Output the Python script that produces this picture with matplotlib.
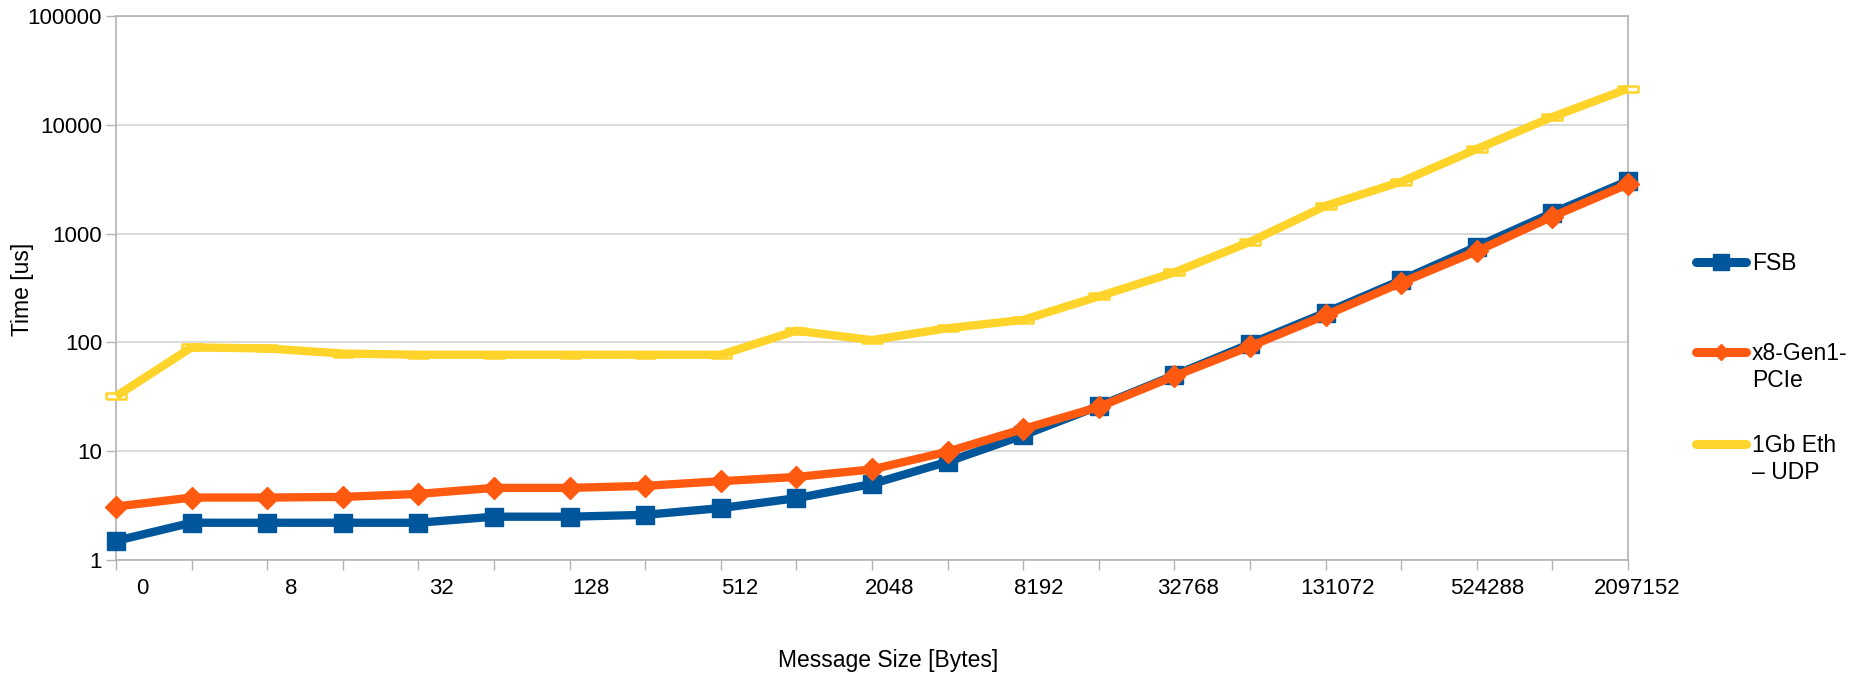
import numpy as np
import matplotlib
matplotlib.use("Agg")
import matplotlib.pyplot as plt
import matplotlib.transforms as mtransforms
from matplotlib.lines import Line2D
from matplotlib.ticker import FixedLocator, NullFormatter, FixedFormatter

plt.rcParams['font.family'] = ['Liberation Sans', 'DejaVu Sans']

# Message sizes (bytes) – category axis
sizes = ["0", "4", "8", "16", "32", "64", "128", "256", "512", "1024", "2048",
         "4096", "8192", "16384", "32768", "65536", "131072", "262144",
         "524288", "1048576", "2097152"]

# Latency in microseconds
fsb = [1.5, 2.2, 2.2, 2.2, 2.2, 2.5, 2.5, 2.6, 3.0, 3.7, 5.0,
       8.0, 14, 26, 50, 97, 188, 373, 760, 1550, 3050]
pcie = [3.1, 3.75, 3.75, 3.8, 4.05, 4.6, 4.6, 4.8, 5.3, 5.8, 6.8,
        9.9, 16, 25.5, 49, 92, 178, 354, 690, 1435, 2850]
eth_udp = [32, 90, 88, 79, 77, 77, 77, 77, 77, 128, 105,
           135, 161, 265, 440, 840, 1800, 3000, 6000, 11800, 21500]

series_names = ["FSB", "x8-Gen1-\nPCIe", "1Gb Eth\n\u2013 UDP"]
c_fsb, c_pcie, c_eth = "#00569a", "#ff5a0f", "#ffd42a"

W, H = 1867, 678
fig = plt.figure(figsize=(W / 100, H / 100), dpi=100)
L, R, T, B = 116, 1628, 16, 560
ax = fig.add_axes([L / W, 1 - B / H, (R - L) / W, (B - T) / H])


def fx(px):
    return px / W


def fy(py):
    return 1 - py / H


x = np.arange(len(sizes))
lw = 6.0

# hollow flat rectangle marker for the Ethernet series
rect = [(-1.6, -0.5), (1.6, -0.5), (1.6, 0.5), (-1.6, 0.5), (-1.6, -0.5)]
ax.plot(x, eth_udp, linestyle="none", marker=rect, markersize=14,
        markerfacecolor="white", markeredgecolor=c_eth, markeredgewidth=1.8,
        zorder=3, clip_on=False)
ax.plot(x, eth_udp, color=c_eth, lw=lw, solid_joinstyle="round",
        solid_capstyle="butt", zorder=4, clip_on=False)
ax.plot(x, fsb, color=c_fsb, lw=lw, marker="s", markersize=13.5,
        solid_joinstyle="round", zorder=5, clip_on=False)
ax.plot(x, pcie, color=c_pcie, lw=lw, marker="D", markersize=11.5,
        solid_joinstyle="round", zorder=6, clip_on=False)

ax.set_yscale("log")
ax.set_ylim(1, 100000)
ax.set_xlim(0, len(sizes) - 1)

# y axis: decade labels
decades = [1, 10, 100, 1000, 10000, 100000]
ax.yaxis.set_major_locator(FixedLocator(decades))
ax.yaxis.set_major_formatter(FixedFormatter([str(d) for d in decades]))
ax.yaxis.set_minor_locator(FixedLocator([]))
ax.tick_params(axis="y", which="major", length=7, width=1, color="#b3b3b3",
               labelsize=16, pad=3)
ax.grid(axis="y", color="#d4d4d4", lw=1.2, zorder=0)

# x axis: tick marks at every category, labels at every second one
ax.xaxis.set_major_locator(FixedLocator(x))
ax.xaxis.set_major_formatter(NullFormatter())
ax.tick_params(axis="x", which="major", length=7, width=1, color="#b3b3b3")
ax.xaxis.set_minor_locator(FixedLocator([]))
lab_tr = mtransforms.blended_transform_factory(ax.transData, fig.transFigure)
for i in x[::2]:
    ax.text(i + 0.344 - 0.01125 * i, fy(588), sizes[i], transform=lab_tr,
            ha="center", va="center", fontsize=16, clip_on=False)

for s in ax.spines.values():
    s.set_color("#b3b3b3")
    s.set_linewidth(1.2)

fig.text(fx(23), fy(289), "Time [us]", rotation=90, ha="center",
         va="center", fontsize=16.5)
fig.text(fx(888), fy(660), "Message Size [Bytes]", ha="center",
         va="center", fontsize=16.5)

# legend
entries = [(c_fsb, "s", 11, 262), (c_pcie, "D", 8, 352), (c_eth, None, 0, 444)]
for (col, mk, ms, yy), name in zip(entries, series_names):
    fig.add_artist(Line2D([fx(1696), fx(1746)], [fy(yy), fy(yy)], color=col,
                          lw=6.5, solid_capstyle="round",
                          transform=fig.transFigure))
    if mk:
        fig.add_artist(Line2D([fx(1721)], [fy(yy)], color=col, marker=mk,
                              markersize=ms, linestyle="none",
                              transform=fig.transFigure))
    fig.text(fx(1752), fy(yy - 10), name, ha="left", va="top", fontsize=16.5,
             linespacing=1.2)

fig.savefig("out.png", dpi=100)
